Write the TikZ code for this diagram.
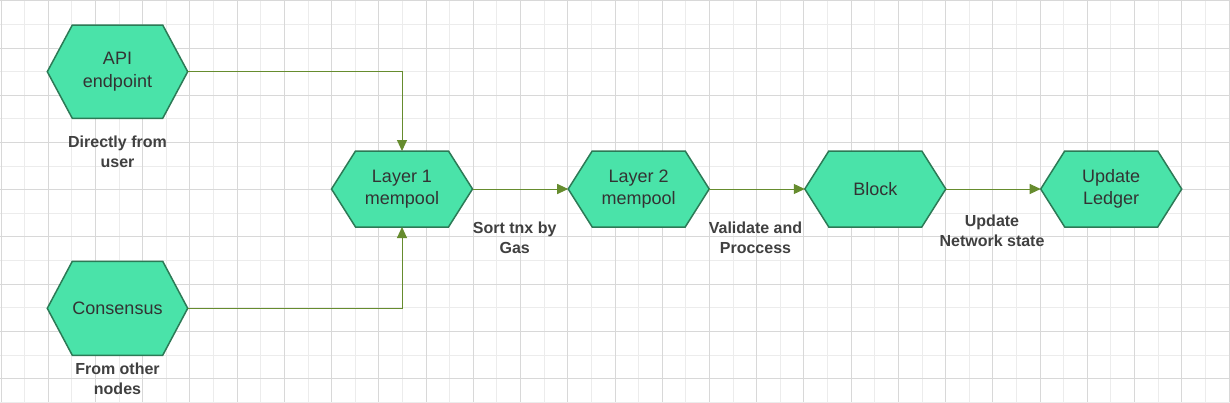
\documentclass[tikz,border=0pt]{standalone}
\usepackage{fontspec}
\setmainfont{Liberation Sans}
\usetikzlibrary{arrows.meta,calc,backgrounds}
\definecolor{hexfill}{RGB}{74,227,169}
\definecolor{hexdraw}{RGB}{44,122,86}
\definecolor{conncol}{RGB}{102,140,46}
\definecolor{txtcol}{RGB}{51,51,51}
\definecolor{lblcol}{RGB}{64,64,64}
\definecolor{gridminor}{RGB}{236,236,236}
\definecolor{gridmajor}{RGB}{216,216,216}
\begin{document}
\begin{tikzpicture}[x=1pt,y=-1pt,
  hexnode/.style={draw=none, inner sep=0pt, outer sep=0pt, align=center, text=txtcol, font=\fontsize{18}{22.5}\selectfont},
  hexline/.style={draw=hexdraw, fill=hexfill, line width=1.5pt, line join=miter},
  lbl/.style={inner sep=0pt, align=center, text=lblcol, font=\bfseries\fontsize{16}{20}\selectfont},
  conn/.style={draw=conncol, line width=1pt, -{Triangle[length=11pt,width=10pt]}},
  gminor/.style={draw=gridminor, line width=1pt},
  gmajor/.style={draw=gridmajor, line width=1pt}]
\useasboundingbox (0,0) rectangle (1230,402);

% nodes
\node[hexnode, minimum width=140.4pt, minimum height=93.3pt] (api) at (117.5,71.7) {API\\endpoint};
\node[hexnode, minimum width=140.4pt, minimum height=94pt] (cons) at (117.5,308.3) {Consensus};
\node[hexnode, minimum width=141pt, minimum height=76pt] (l1) at (402,189) {Layer 1\\mempool};
\node[hexnode, minimum width=141pt, minimum height=76pt] (l2) at (638.7,189) {Layer 2\\mempool};
\node[hexnode, minimum width=141pt, minimum height=76pt] (blk) at (875.3,189) {Block};
\node[hexnode, minimum width=141pt, minimum height=76pt] (led) at (1111.2,189) {Update\\Ledger};

\begin{scope}[on background layer]
  \fill[white] (0,0) rectangle (1230,402);
  \foreach \i in {0,...,52}{
    \pgfmathsetmacro\gx{1+\i*23.615}
    \draw[gminor] (\gx,0) -- (\gx,402);
  }
  \foreach \i in {0,...,17}{
    \pgfmathsetmacro\gy{0.8+\i*23.615}
    \draw[gminor] (0,\gy) -- (1230,\gy);
  }
  \foreach \i in {0,...,26}{
    \pgfmathsetmacro\gx{1+\i*47.23}
    \draw[gmajor] (\gx,0) -- (\gx,402);
  }
  \foreach \i in {0,...,8}{
    \pgfmathsetmacro\gy{0.8+\i*47.23}
    \draw[gmajor] (0,\gy) -- (1230,\gy);
  }
  \foreach \n/\d in {api/25,cons/25,l1/24,l2/24,blk/24,led/24}
    \draw[hexline] (\n.west) -- ($(\n.north west)+(\d,0)$) -- ($(\n.north east)+(-\d,0)$)
      -- (\n.east) -- ($(\n.south east)+(-\d,0)$) -- ($(\n.south west)+(\d,0)$) -- cycle;
\end{scope}

% labels
\node[lbl] (lapi) at (117.5,151.9) {Directly from\\user};
\node[lbl] (lcons) at (117.5,379.2) {From other\\nodes};
\node[lbl] (lsort) at (514.7,237.5) {Sort tnx by\\Gas};
\node[lbl] (lval) at (755.5,237.7) {Validate and\\Proccess};
\node[lbl] (lupd) at (992,230.9) {Update\\Network state};

% connectors
\draw[conn] (api.east) -| (l1.north);
\draw[conn] (cons.east) -| (l1.south);
\draw[conn] (l1.east) -- (l2.west);
\draw[conn] (l2.east) -- (blk.west);
\draw[conn] (blk.east) -- (led.west);
\end{tikzpicture}
\end{document}
